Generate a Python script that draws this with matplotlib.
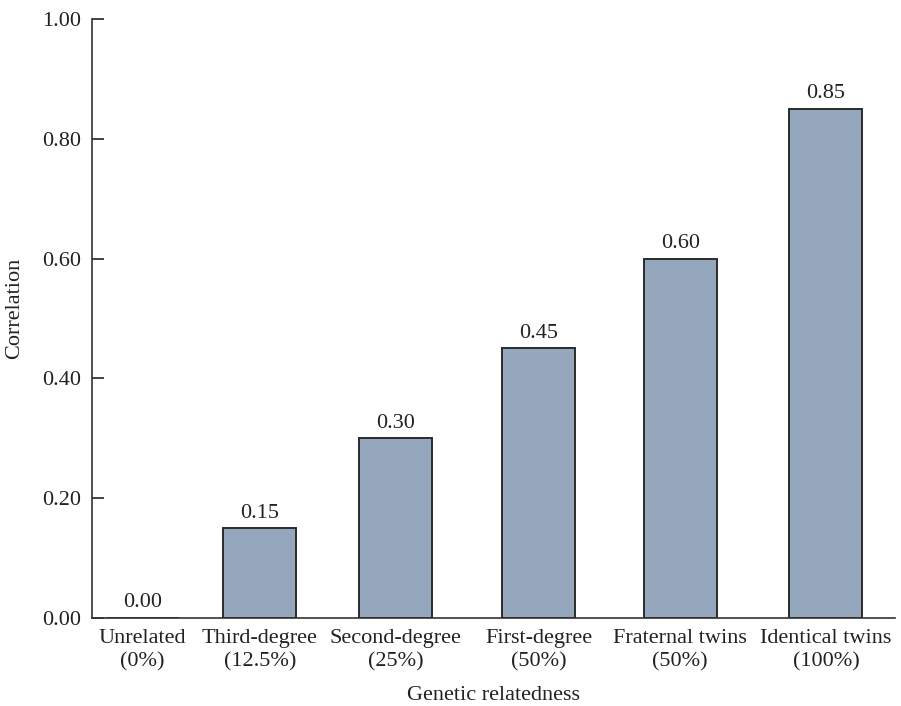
import matplotlib
matplotlib.use("Agg")
import matplotlib.pyplot as plt

categories = ["Unrelated\n(0%)", "Third-degree\n(12.5%)", "Second-degree\n(25%)",
              "First-degree\n(50%)", "Fraternal twins\n(50%)", "Identical twins\n(100%)"]
correlations = [0.00, 0.15, 0.30, 0.45, 0.60, 0.85]
yticks = [0.0, 0.2, 0.4, 0.6, 0.8, 1.0]

# bar slots along the x axis (not quite evenly spaced)
slots = [0.17, 1.0, 1.96, 2.97, 3.97, 5.0]

plt.rcParams["font.family"] = ["Liberation Serif", "DejaVu Serif"]
plt.rcParams["font.size"] = 16

fig = plt.figure(figsize=(9.01, 7.06), dpi=100)
ax = fig.add_axes([0.1021, 0.1246, 0.8912, 0.8485])

bars = ax.bar(slots, correlations, width=0.516, color="#95a7bd",
              edgecolor="#2b2b2b", linewidth=1.4)
for b, v in zip(bars, correlations):
    ax.annotate(f"{v:.2f}", (b.get_x() + b.get_width() / 2, v),
                xytext=(0, 4), textcoords="offset points",
                ha="center", va="bottom", color="#222222")

ax.set_xlim(-0.187, 5.488)
ax.set_ylim(0, 1.0)
ax.set_yticks(yticks)
ax.set_yticklabels([f"{t:.2f}" for t in yticks])
ax.set_xticks(slots)
ax.set_xticklabels(categories, linespacing=1.3)

ax.tick_params(axis="y", direction="in", length=8.5, width=1.2, pad=8,
               colors="#222222")
ax.tick_params(axis="x", length=0, pad=8, colors="#222222")

for s in ["top", "right"]:
    ax.spines[s].set_visible(False)
for s in ["left", "bottom"]:
    ax.spines[s].set_linewidth(1.2)
    ax.spines[s].set_color("#333333")

ax.set_ylabel("Correlation", color="#222222")
ax.yaxis.set_label_coords(-0.085, 0.517)
ax.set_xlabel("Genetic relatedness", color="#222222")
ax.xaxis.set_label_coords(0.5, -0.113)

fig.savefig("out.png", dpi=100)
